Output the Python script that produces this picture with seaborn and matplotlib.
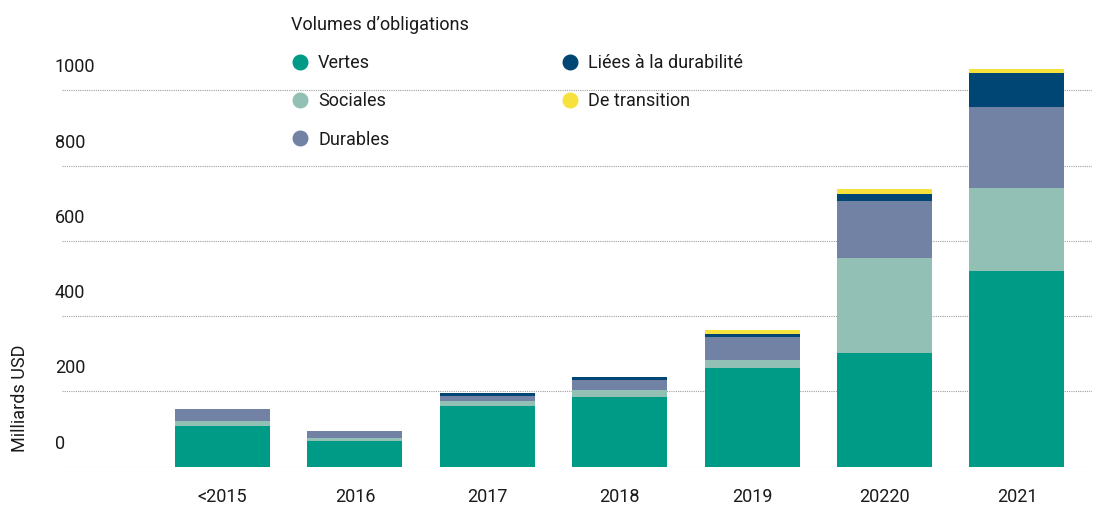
import matplotlib
matplotlib.use("Agg")
import matplotlib.pyplot as plt
from matplotlib.lines import Line2D
import seaborn as sns
import pandas as pd
import numpy as np

categories = ["<2015", "2016", "2017", "2018", "2019", "20220", "2021"]
vertes = [109, 69, 162, 184, 263, 302, 521]
sociales = [13, 8, 13, 19, 21, 252, 220]
durables = [32, 19, 13, 27, 61, 151, 215]
liees = [0, 0, 8, 8, 8, 19, 90]
transition = [0, 0, 0, 0, 11, 13, 11]

series_names = ["Vertes", "Sociales", "Durables", "Liées à la durabilité", "De transition"]
series_vals = [vertes, sociales, durables, liees, transition]
colors = ["#009B87", "#93C0B5", "#7282A4", "#004674", "#F7E13C"]
yticks = [0, 200, 400, 600, 800, 1000]

sns.set_theme(style="white")
FONT = ["Roboto", "DejaVu Sans"]
plt.rcParams["font.family"] = FONT
TXT = "#1a1a1a"

fig = plt.figure(figsize=(11.04, 5.05), dpi=100)
W, H = 1104, 505
ax_left, ax_right = 62, 1092
base_y = 466.7
px_per_unit = 0.3764
ylim_top = 1150
ax_top = base_y - ylim_top * px_per_unit
ax = fig.add_axes([ax_left / W, (H - base_y) / H, (ax_right - ax_left) / W, (base_y - ax_top) / H])

cum = np.cumsum(np.array(series_vals), axis=0)
for i in range(len(series_names) - 1, -1, -1):
    df = pd.DataFrame({"cat": categories, "val": cum[i]})
    sns.barplot(data=df, x="cat", y="val", order=categories, color=colors[i],
                saturation=1, width=0.717, linewidth=0, edgecolor="none", ax=ax, zorder=3)

ax.set_xlim(-1.212, 6.567)
ax.set_ylim(0, ylim_top)
for v in yticks:
    ax.axhline(v, color="#a0a0a0", linestyle=(0, (1, 1)), linewidth=0.8, zorder=1)
    ax.annotate(str(v), xy=(-7 / (ax_right - ax_left), v), xycoords=ax.get_yaxis_transform(),
                xytext=(0, 23 * 0.72), textcoords="offset points", ha="left", va="center",
                fontsize=13, color=TXT)
ax.set_yticks([])
ax.set_xlabel("")
ax.set_ylabel("")
for s in ax.spines.values():
    s.set_visible(False)
ax.tick_params(axis="x", length=0, pad=15, labelsize=13, labelcolor=TXT)

fig.text(20 / W, 1 - 398 / H, "Milliards USD", rotation=90, ha="center", va="center",
         fontsize=13, color=TXT)

handles = [Line2D([], [], marker="o", linestyle="", markersize=10.5, markerfacecolor=c,
                  markeredgecolor=c) for c in colors]
leg = fig.legend(handles, series_names, title="Volumes d’obligations", ncol=2,
                 loc="upper left", bbox_to_anchor=(291 / W, 1 - 16 / H), frameon=False,
                 fontsize=13, title_fontsize=13, alignment="left", borderpad=0,
                 handlelength=1.0, handletextpad=0.5, labelspacing=1.12,
                 columnspacing=9.5, borderaxespad=0)
for t in leg.get_texts():
    t.set_color(TXT)
leg.get_title().set_color(TXT)

fig.savefig("out.png", dpi=100)
